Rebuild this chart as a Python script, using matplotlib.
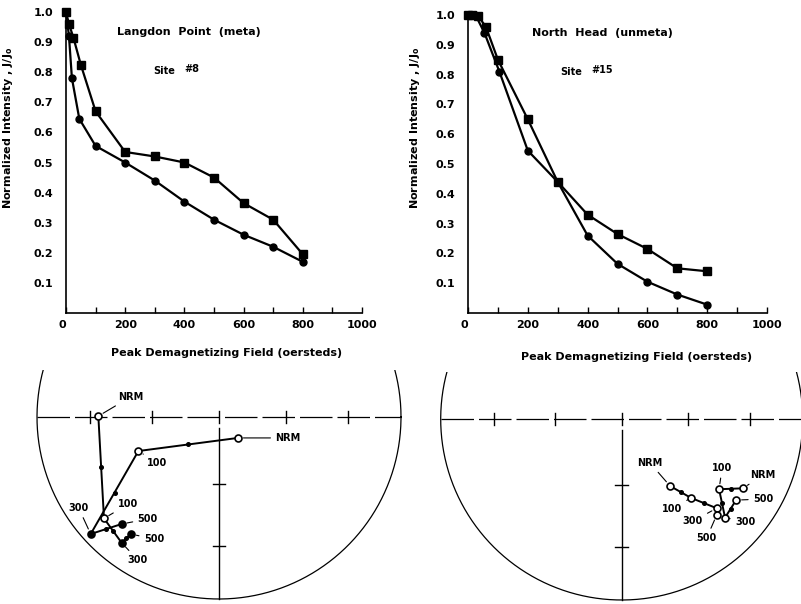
import numpy as np
import matplotlib
matplotlib.use("Agg")
import matplotlib.pyplot as plt

#-- AF demagnetization curves: peak field (oersteds) and J/Jo
lp_sq_x = [0, 10, 25, 50, 100, 200, 300, 400, 500, 600, 700, 800]
lp_sq_y = [1.0, 0.96, 0.915, 0.825, 0.67, 0.535, 0.52, 0.50, 0.45, 0.365, 0.31, 0.195]
lp_ci_x = [0, 10, 20, 45, 100, 200, 300, 400, 500, 600, 700, 800]
lp_ci_y = [1.0, 0.92, 0.78, 0.645, 0.555, 0.50, 0.44, 0.37, 0.31, 0.26, 0.22, 0.17]

nh_sq_x = [0, 15, 35, 60, 100, 200, 300, 400, 500, 600, 700, 800]
nh_sq_y = [1.0, 1.0, 0.995, 0.96, 0.85, 0.65, 0.44, 0.33, 0.265, 0.215, 0.15, 0.14]
nh_ci_x = [0, 25, 55, 105, 200, 300, 400, 500, 600, 700, 800]
nh_ci_y = [1.0, 1.0, 0.94, 0.81, 0.545, 0.44, 0.26, 0.165, 0.105, 0.062, 0.028]

x_ticks = [0, 200, 400, 600, 800, 1000]
y_ticks = [0.1, 0.2, 0.3, 0.4, 0.5, 0.6, 0.7, 0.8, 0.9, 1.0]

#-- Equal-area net paths, east/north in net radii, one entry per step
net_steps = ["NRM", "100", "300", "500"]
lp_a_x = [-0.663, -0.632, -0.535, -0.484]
lp_a_y = [0.005, -0.557, -0.691, -0.643]
lp_b_x = [0.104, -0.443, -0.705, -0.535]
lp_b_y = [-0.115, -0.187, -0.643, -0.588]
lp_open = [True, True, False, False]

nh_a_x = [0.267, 0.383, 0.525, 0.525]
nh_a_y = [-0.370, -0.436, -0.493, -0.530]
nh_b_x = [0.669, 0.538, 0.571, 0.632]
nh_b_y = [-0.383, -0.388, -0.545, -0.448]
nh_open = [True, True, True, True]

net_tick_incl = [30, 60]

W, H = 801, 604
FONT = dict(fontsize=8, fontweight="bold")
fig = plt.figure(figsize=(W / 100, H / 100), dpi=100)


def px_axes(x0, x1, y0, y1):
    # axes from pixel box (y measured from top)
    return fig.add_axes([x0 / W, 1 - y1 / H, (x1 - x0) / W, (y1 - y0) / H])


def curve_panel(box, sq_x, sq_y, ci_x, ci_y, title, site, title_xy, site_xy,
                ylab_xy, xlab_xy):
    ax = px_axes(*box)
    ax.plot(sq_x, sq_y, "-s", color="k", lw=1.6, ms=6, clip_on=False)
    ax.plot(ci_x, ci_y, "-o", color="k", lw=1.6, ms=5, clip_on=False)
    ax.set_xlim(0, 1000)
    ax.set_ylim(0, 1.0)
    for s in ("top", "right"):
        ax.spines[s].set_visible(False)
    for s in ("left", "bottom"):
        ax.spines[s].set_linewidth(1.2)
    ax.set_xticks(x_ticks)
    ax.set_xticks(range(100, 1000, 200), minor=True)
    ax.set_yticks(y_ticks)
    ax.set_yticklabels([f"{v:.1f}" for v in y_ticks], **FONT)
    ax.set_xticklabels([str(v) for v in x_ticks], **FONT)
    ax.xaxis.get_ticklabels()[0].set_ha("right")
    ax.tick_params(axis="x", which="both", direction="in", length=4, width=1, pad=5)
    ax.tick_params(axis="y", length=0, pad=9)
    ax.set_ylabel("Normalized Intensity , J/J$_\\mathbf{o}$", **FONT)
    ax.yaxis.set_label_coords(*ylab_xy)
    ax.set_xlabel("Peak Demagnetizing Field (oersteds)", **FONT)
    ax.xaxis.set_label_coords(*xlab_xy)
    ax.text(*title_xy, title, ha="left", va="center", **FONT)
    ax.text(*site_xy, "Site", ha="left", va="center", fontsize=7, fontweight="bold")
    ax.text(site_xy[0] + 105, site_xy[1] + 0.005, site, ha="left", va="center",
            fontsize=7, fontweight="bold")
    return ax


curve_panel((66, 362, 12, 313), lp_sq_x, lp_sq_y, lp_ci_x, lp_ci_y,
            "Langdon  Point  (meta)", "#8", (172, 0.935), (294, 0.805),
            (-0.172, 0.615), (0.544, -0.116))
curve_panel((468, 767, 15, 313), nh_sq_x, nh_sq_y, nh_ci_x, nh_ci_y,
            "North  Head  (unmeta)", "#15", (214, 0.94), (308, 0.81),
            (-0.154, 0.62), (0.565, -0.13))


def net_panel(box, cx, cy, r, paths, open_flags, labels):
    x0, x1, y0, y1 = box
    ax = px_axes(*box)
    ax.set_xlim((x0 - cx) / r, (x1 - cx) / r)
    ax.set_ylim((cy - y1) / r, (cy - y0) / r)
    ax.axis("off")
    t = np.linspace(0, 2 * np.pi, 500)
    ax.plot(np.cos(t), np.sin(t), color="k", lw=0.9)
    ax.plot([-1, 1], [0, 0], color="k", lw=0.9, ls=(0, (26, 4)))
    ax.plot([0, 0], [-0.06, -1], color="k", lw=1.0)
    ax.plot([0, 0], [-0.035, 0.035], color="k", lw=1.0)
    tick_r = [np.sqrt(2) * np.sin(np.radians(90 - i) / 2) for i in net_tick_incl]
    for tr in tick_r:
        for s in (-1, 1):
            ax.plot([s * tr] * 2, [-0.035, 0.035], color="k", lw=1.0)
        ax.plot([-0.035, 0.035], [-tr] * 2, color="k", lw=1.0)
    for (px, py), offs in zip(paths, labels):
        ax.plot(px, py, "-", color="k", lw=1.4, zorder=2)
        mx = (np.array(px[1:]) + np.array(px[:-1])) / 2
        my = (np.array(py[1:]) + np.array(py[:-1])) / 2
        ax.plot(mx, my, "o", color="k", ms=2.6, zorder=3)
        for xx, yy, op, lab, off in zip(px, py, open_flags, net_steps, offs):
            ax.plot(xx, yy, "o", ms=5, mew=1.2, mec="k",
                    mfc="white" if op else "k", zorder=4)
            ax.annotate(lab, xy=(xx, yy), xytext=off, textcoords="offset pixels",
                        ha="center", va="center", fontsize=7, fontweight="bold",
                        arrowprops=dict(arrowstyle="-", lw=0.8, color="k",
                                        shrinkA=1.5, shrinkB=4))
    return ax


#-- label offsets (pixels) for each step of each path
lp_labels = [[(32, 19), (24, 14), (16, -17), (23, -5)],
             [(50, 0), (19, -12), (-12, 26), (26, 5)]]
nh_labels = [[(-20, 23), (-19, -11), (-24, -13), (-10, -23)],
             [(20, 13), (3, 21), (20, -4), (27, 1)]]

net_panel((0, 405, 370, 604), 219, 417, 182,
          [(lp_a_x, lp_a_y), (lp_b_x, lp_b_y)], lp_open, lp_labels)
net_panel((410, 801, 372, 604), 621.7, 419, 181,
          [(nh_a_x, nh_a_y), (nh_b_x, nh_b_y)], nh_open, nh_labels)

fig.savefig("out.png", dpi=100)
